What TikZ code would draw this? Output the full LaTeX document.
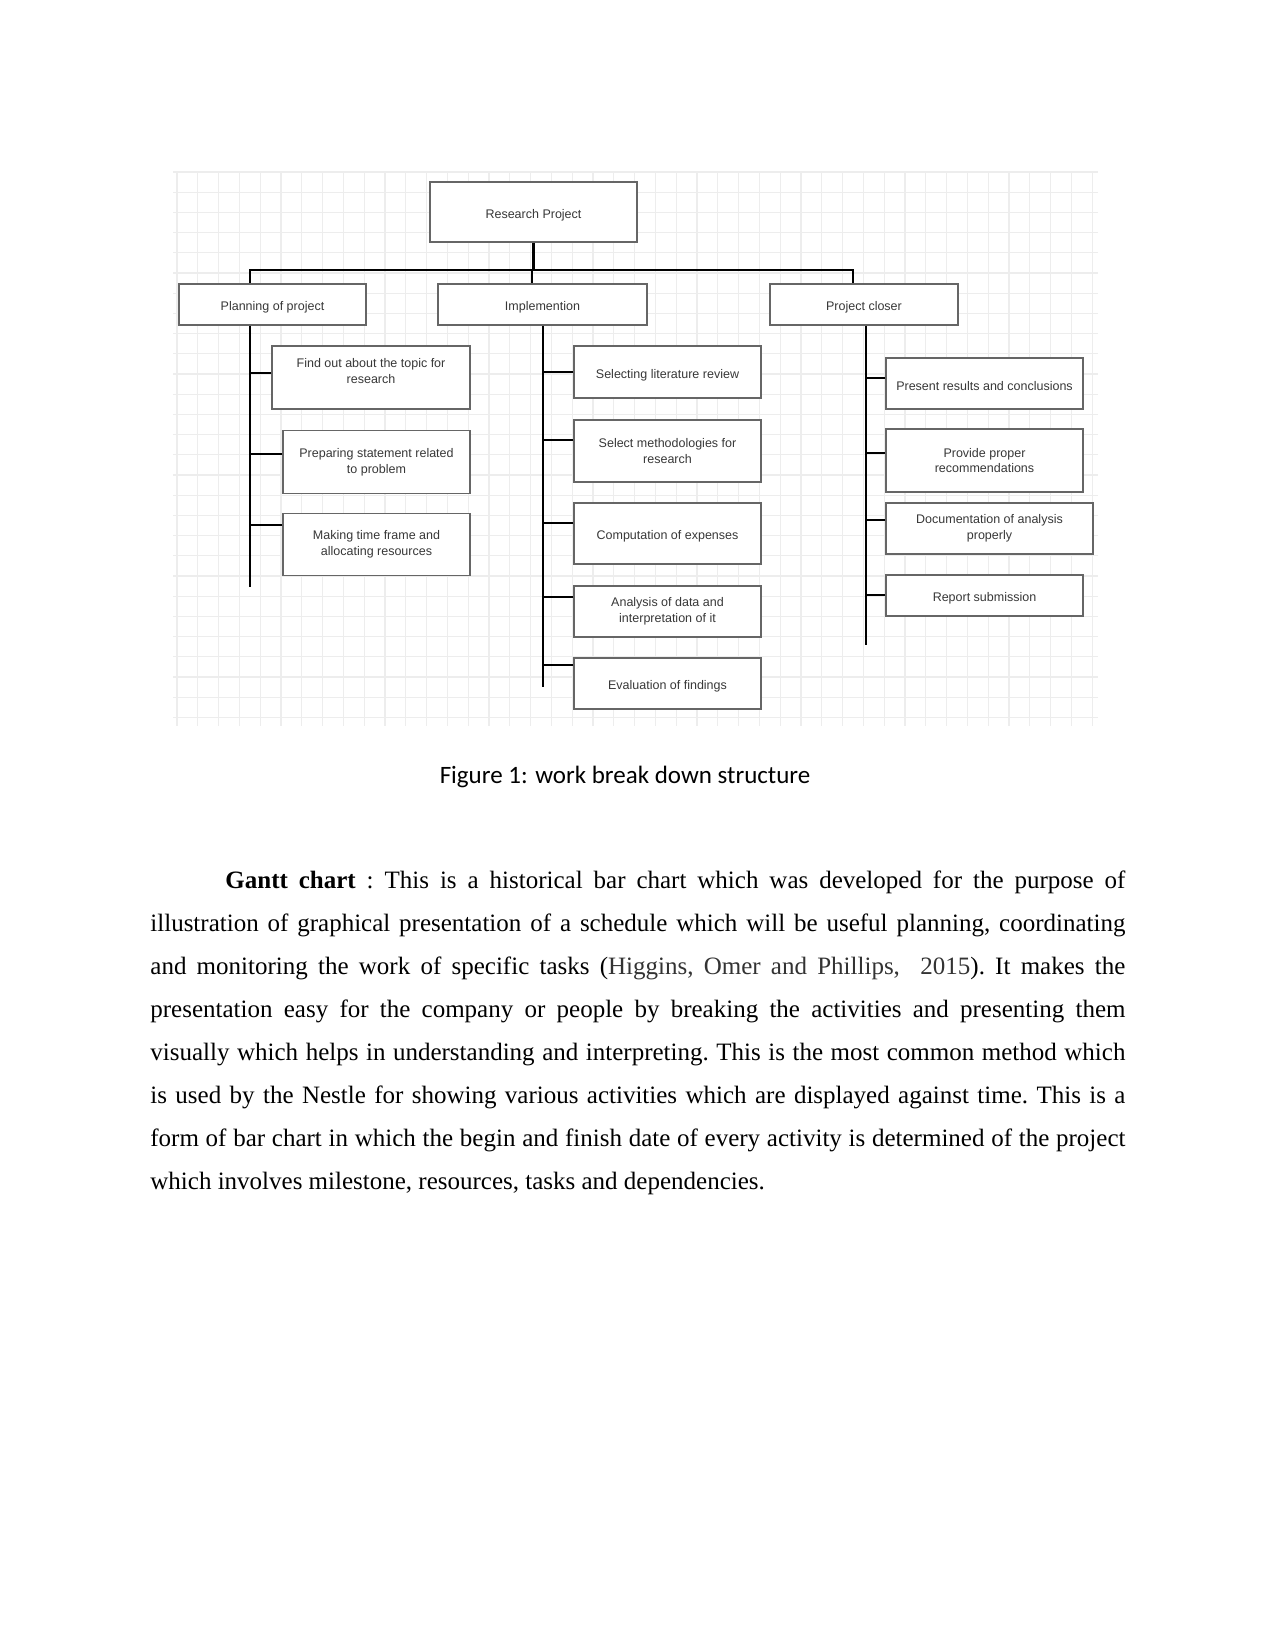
\documentclass[tikz,border=0pt]{standalone}
\usepackage{fontspec}
\setmainfont{Liberation Serif}
\setsansfont{Liberation Sans}
\newfontfamily\capfont{Carlito}
\usetikzlibrary{calc}

\begin{document}
\begin{tikzpicture}[x=0.48pt, y=-0.48pt,
    box/.style={draw=black!60, line width=0.7pt, fill=white, inner sep=0pt,
      align=center, text=black!78, font=\sffamily\fontsize{6}{7.6}\selectfont,
      execute at begin node={\rule{0pt}{7.2pt}}},
    size/.style 2 args={minimum width=#1*0.48pt, minimum height=#2*0.48pt},
    link/.style={line width=1pt, black},
    gridline/.style={black!7, line width=0.5pt}]
    \useasboundingbox[fill=white] (0,0) rectangle (1275,1651);
    % background grid
    \foreach \x in {177,197.8,...,1099} \draw[gridline] (\x,172) -- (\x,726);
    \foreach \y in {172,192.2,...,727} \draw[gridline] (173,\y) -- (1098,\y);
    % top levels
    \node[box, size={207}{60}] (root) at (533.5,212) {Research Project};
    \node[box, size={187}{41}] (plan) at (272.5,304.5) {Planning of project};
    \node[box, size={209}{41}] (impl) at (542.5,304.5) {Implemention};
    \node[box, size={188}{41}] (close) at (864,304.5) {Project closer};
    \coordinate (pdrop) at (250,270);
    \coordinate (idrop) at (532,270);
    \coordinate (cdrop) at (853,270);
    \draw[link] (root.south) -- (root.south |- pdrop);
    \draw[link] (plan.north -| pdrop) -- (pdrop) -- (cdrop) -- (close.north -| cdrop);
    \draw[link] (idrop) -- (impl.north -| idrop);
    % planning column
    \node[box, size={198}{63}] (p1) at (371,377.5) {Find out about the topic for\\research\\[-1pt]};
    \node[box, size={187}{63}] (p2) at (376.5,462) {Preparing statement related\\to problem};
    \node[box, size={187}{62}] (p3) at (376.5,544.5) {Making time frame and\\allocating resources};
    \coordinate (pspine) at (250,587);
    \draw[link] (plan.south -| pspine) -- (pspine);
    \foreach \n/\d in {p1/4.5, p2/8, p3/19.5}
      \draw[link] ([yshift=\d*0.48pt]\n.west) -- ([yshift=\d*0.48pt]\n.west -| pspine);
    % implementation column
    \node[box, size={187}{52}] (i1) at (667.5,372) {Selecting literature review};
    \node[box, size={187}{62}] (i2) at (667.5,451) {Select methodologies for\\research};
    \node[box, size={187}{61}] (i3) at (667.5,533.5) {Computation of expenses};
    \node[box, size={187}{51}] (i4) at (667.5,611.5) {Analysis of data and\\interpretation of it};
    \node[box, size={187}{51}] (i5) at (667.5,683.5) {Evaluation of findings};
    \coordinate (ispine) at (543,687);
    \draw[link] (impl.south -| ispine) -- (ispine);
    \foreach \n/\d in {i1/0, i2/11, i3/10.5, i4/14.5, i5/18.5}
      \draw[link] ([yshift=\d*0.48pt]\n.west) -- ([yshift=\d*0.48pt]\n.west -| ispine);
    % closing column
    \node[box, size={197}{51}] (c1) at (984.5,383.5) {Present results and conclusions};
    \node[box, size={197}{63}] (c2) at (984.5,460.5) {Provide proper\\recommendations};
    \node[box, size={207}{51}] (c3) at (989.5,528.5) {Documentation of analysis\\properly};
    \node[box, size={197}{41}] (c4) at (984.5,595.5) {Report submission};
    \coordinate (cspine) at (866,645);
    \draw[link] (close.south -| cspine) -- (cspine);
    \foreach \n/\d in {c1/5.5, c2/7.5, c3/8.5, c4/0.5}
      \draw[link] ([yshift=\d*0.48pt]\n.west) -- ([yshift=\d*0.48pt]\n.west -| cspine);
    % caption and text
    \node[anchor=base, inner sep=0pt, text=black, font=\capfont\fontsize{12}{14}\selectfont] (cap) at (625,783) {Figure 1: work break down structure};
    \node[anchor=north west, inner sep=0pt, text width=468pt, align=justify,
      font=\fontsize{12}{20.7}\selectfont] (body) at (150,870)
      {\frenchspacing\hyphenpenalty=10000\hspace*{36pt}\textbf{Gantt chart} : This is a historical bar chart which was developed for the purpose of\linebreak
      illustration of graphical presentation of a schedule which will be useful planning, coordinating\linebreak
      and monitoring the work of specific tasks ({\color{black!80}Higgins, Omer and Phillips, \ 2015}). It makes the\linebreak
      presentation easy for the company or people by breaking the activities and presenting them\linebreak
      visually which helps in understanding and interpreting. This is the most common method which\linebreak
      is used by the Nestle for showing various activities which are displayed against time. This is a\linebreak
      form of bar chart in which the begin and finish date of every activity is determined of the project\linebreak
      which involves milestone, resources, tasks and dependencies.};
  \end{tikzpicture}
\end{document}
